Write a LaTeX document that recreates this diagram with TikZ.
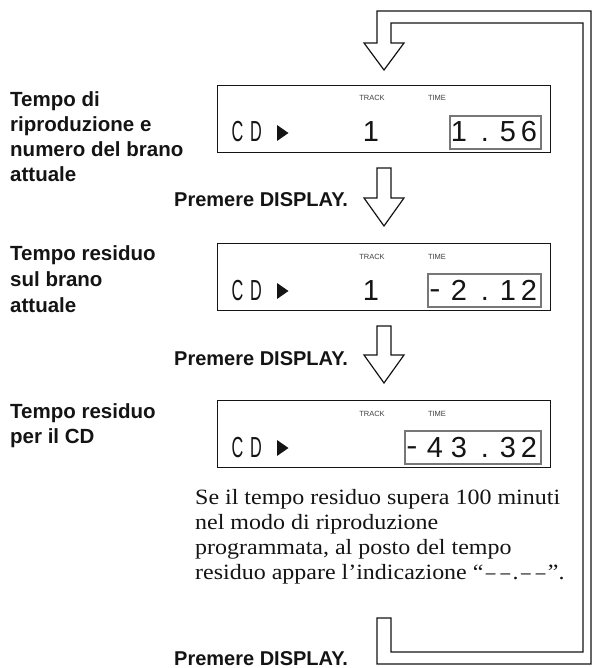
\documentclass[tikz,border=0pt]{standalone}
\usepackage{fontspec}
\newfontfamily\labelfont{Liberation Sans}
\newfontfamily\notefont[FakeStretch=1.1]{Liberation Serif}
\definecolor{inkdark}{HTML}{141414}
\definecolor{lcdframe}{HTML}{777777}
\newcommand{\lcdnarrow}[1]{\scalebox{0.56}[1]{#1}}
\newcommand{\lcdminus}{\raisebox{2pt}{\scalebox{1.15}[1]{-}}}
\newcommand{\notedash}{\kern2.5pt\scalebox{0.8}[1]{–}\kern2.5pt}
\newcommand{\downblock}[4]{%
  \draw[blockarrow] (#1-7,#2) -- (#1+7,#2) -- (#1+7,#3) -- (#1+20,#3)
    -- (#1,#4) -- (#1-20,#3) -- (#1-7,#3) -- cycle;}

\begin{document}
\begin{tikzpicture}[
  x=1pt,
  y=-1pt,
  every node/.style={inkdark, inner sep=0pt},
  lcdbox/.style={draw=inkdark, line width=1.2pt, minimum width=333pt,
                 minimum height=67pt, anchor=north west},
  timebox/.style={draw=lcdframe, line width=1.9pt},
  blockarrow/.style={draw=inkdark, line width=1.2pt, line join=miter},
  caption/.style={anchor=base west,
                  font=\labelfont\bfseries\fontsize{20.5}{25}\selectfont},
  notetext/.style={anchor=base west,
                   font=\notefont\fontsize{21.8}{25}\selectfont},
  lcdchar/.style={anchor=base, font=\labelfont\fontsize{29}{29}\selectfont},
  lcdtag/.style={anchor=base, font=\labelfont\fontsize{7.5}{8}\selectfont,
                 text=black!75}
]
  % ---- common bounding box ----
  \path[use as bounding box] (0,0) rectangle (592,668);

  % ---- the three displays ----
  \foreach \d/\top/\tl in {1/85/450, 2/243/428, 3/400/405} {
    \node[lcdbox] (disp\d) at (217,\top) {};
    \draw[timebox] (\tl,\top+31) rectangle (541,\top+64);
    \node[lcdtag] (track\d) at (372,\top+16) {TRACK};
    \node[lcdtag] (time\d) at (437,\top+16) {TIME};
    \node[lcdchar] (cdc\d) at (237.5,\top+57) {\lcdnarrow{C}};
    \node[lcdchar] (cdd\d) at (256,\top+57) {\lcdnarrow{D}};
    \fill[inkdark] (277,\top+40) -- (277,\top+56) -- (288.5,\top+48) -- cycle;
  }
  \node[lcdchar] (trackno1) at (371,142) {1};
  \node[lcdchar] (trackno2) at (371,300) {1};

  % ---- time readings ----
  \foreach \cx/\ch [count=\i] in {459/1, 485/., 508/5, 529/6}
    \node[lcdchar] (timeA-\i) at (\cx,142) {\ch};
  \foreach \cx/\ch [count=\i] in {435/\lcdminus, 459/2, 485/., 508/1, 529/2}
    \node[lcdchar] (timeB-\i) at (\cx,300) {\ch};
  \foreach \cx/\ch [count=\i] in {412/\lcdminus, 435/4, 459/3, 485/., 508/3, 529/2}
    \node[lcdchar] (timeC-\i) at (\cx,457) {\ch};

  % ---- arrows between the displays ----
  \downblock{384}{168}{198}{226}
  \downblock{384}{326}{355}{383}

  % ---- return loop back to the first display ----
  \draw[blockarrow] (377,618) -- (391,618) -- (391,652) -- (583,652)
    -- (583,23) -- (391,23) -- (391,43) -- (404,43) -- (384,70)
    -- (364,43) -- (377,43) -- (377,11) -- (591,11) -- (591,664)
    -- (377,664) -- cycle;

  % ---- labels on the left ----
  \foreach \txt [count=\i] in {Tempo di, riproduzione e, numero del brano, attuale}
    \node[caption] (capA-\i) at (10,{82+25*\i}) {\txt};
  \foreach \txt [count=\i] in {Tempo residuo, sul brano, attuale}
    \node[caption] (capB-\i) at (10,{234+26*\i}) {\txt};
  \foreach \txt [count=\i] in {Tempo residuo, per il CD}
    \node[caption] (capC-\i) at (10,{393+25*\i}) {\txt};

  % ---- button steps ----
  \foreach \yb [count=\i] in {207, 365, 665}
    \node[caption, font=\labelfont\bfseries\fontsize{20}{24}\selectfont]
      (press\i) at (174,\yb) {Premere DISPLAY.};

  % ---- note under the last display ----
  \foreach \txt [count=\i] in {Se il tempo residuo supera 100 minuti,
      nel modo di riproduzione, {programmata, al posto del tempo},
      residuo appare l’indicazione “\notedash\notedash.\notedash\notedash”.}
    \node[notetext] (note\i) at (195,{479+25*\i}) {\txt};
\end{tikzpicture}
\end{document}
